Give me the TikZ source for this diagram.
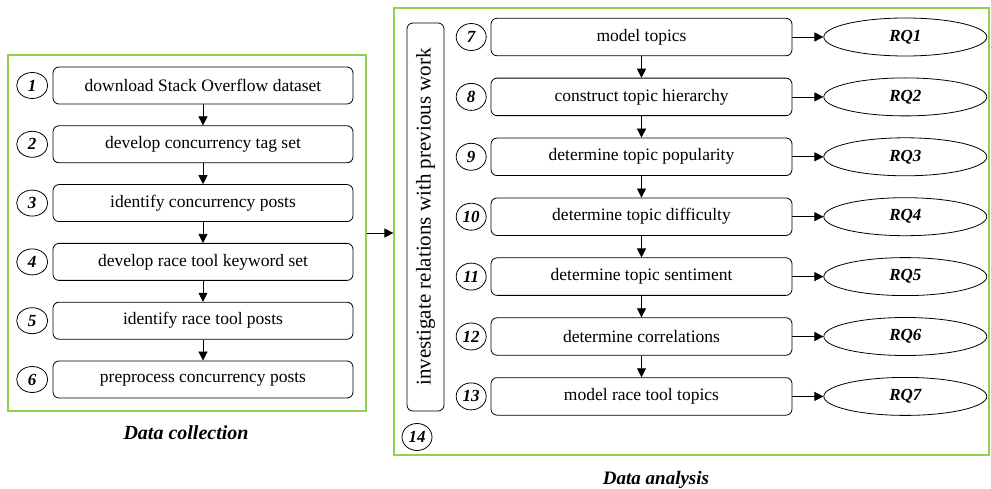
\documentclass[tikz,border=0pt]{standalone}
\usepackage{fontspec}
\setmainfont{Liberation Serif}
\usetikzlibrary{positioning,shapes.geometric,arrows.meta}
\definecolor{framegreen}{RGB}{146,208,80}

\begin{document}
\begin{tikzpicture}[
    x=1pt, y=-1pt,
    node distance=21pt,
    stepbox/.style={
        rectangle,
        rounded corners=6pt,
        draw,
        line width=0.8pt,
        minimum width=300pt,
        minimum height=37pt,
        font=\fontsize{17.5}{20}\selectfont
    },
    number/.style={
        ellipse,
        draw,
        line width=0.8pt,
        minimum width=31pt,
        minimum height=26pt,
        inner sep=0pt,
        font=\fontsize{17}{20}\selectfont\bfseries\itshape
    },
    rq/.style={
        ellipse,
        draw,
        line width=0.8pt,
        minimum width=163pt,
        minimum height=38pt,
        font=\fontsize{17}{20}\selectfont\bfseries\itshape
    },
    frame/.style={
        rectangle,
        draw=framegreen,
        line width=1.2pt,
        inner sep=0pt
    },
    caption/.style={
        font=\fontsize{19}{22}\selectfont\bfseries\itshape
    },
    arrow/.style={
        -{Triangle[width=9pt,length=9pt]},
        line width=0.7pt
    }
]
\useasboundingbox (0,0) rectangle (991,489);

% Rahmen
\node[frame, minimum width=358pt, minimum height=356pt] (collect) at (187,233) {};
\node[frame, minimum width=595pt, minimum height=447pt] (analysis) at (691.5,231.5) {};

% Data collection
\node[stepbox] (s1) at (203,85.5) {download Stack Overflow dataset};
\node[stepbox, below=of s1] (s2) {develop concurrency tag set};
\node[stepbox, below=of s2] (s3) {identify concurrency posts};
\node[stepbox, below=of s3] (s4) {develop race tool keyword set};
\node[stepbox, below=of s4] (s5) {identify race tool posts};
\node[stepbox, below=of s5] (s6) {preprocess concurrency posts};

\node[number, left=4.5pt of s1] (n1) {1};
\node[number, left=4.5pt of s2] (n2) {2};
\node[number, left=4.5pt of s3] (n3) {3};
\node[number, left=4.5pt of s4] (n4) {4};
\node[number, left=4.5pt of s5] (n5) {5};
\node[number, left=4.5pt of s6] (n6) {6};

\draw[arrow] (s1) -- (s2);
\draw[arrow] (s2) -- (s3);
\draw[arrow] (s3) -- (s4);
\draw[arrow] (s4) -- (s5);
\draw[arrow] (s5) -- (s6);

\node[caption, font=\fontsize{20}{23}\selectfont\bfseries\itshape] (collectlabel) at (186,433) {Data collection};

% Data analysis
\node[stepbox, minimum width=301pt, minimum height=37.5pt] (s7) at (641.5,37) {model topics};
\node[stepbox, minimum width=301pt, minimum height=37.5pt, below=21.6pt of s7] (s8) {construct topic hierarchy};
\node[stepbox, minimum width=301pt, minimum height=37.5pt, below=21.6pt of s8] (s9) {determine topic popularity};
\node[stepbox, minimum width=301pt, minimum height=37.5pt, below=21.6pt of s9] (s10) {determine topic difficulty};
\node[stepbox, minimum width=301pt, minimum height=37.5pt, below=21.6pt of s10] (s11) {determine topic sentiment};
\node[stepbox, minimum width=301pt, minimum height=37.5pt, below=21.6pt of s11] (s12) {determine correlations};
\node[stepbox, minimum width=301pt, minimum height=37.5pt, below=21.6pt of s12] (s13) {model race tool topics};

\node[number, minimum width=30pt, minimum height=27pt, left=4pt of s7] (n7) {7};
\node[number, minimum width=30pt, minimum height=27pt, left=4pt of s8] (n8) {8};
\node[number, minimum width=30pt, minimum height=27pt, left=4pt of s9] (n9) {9};
\node[number, minimum width=30pt, minimum height=27pt, left=4pt of s10] (n10) {10};
\node[number, minimum width=30pt, minimum height=27pt, left=4pt of s11] (n11) {11};
\node[number, minimum width=30pt, minimum height=27pt, left=4pt of s12] (n12) {12};
\node[number, minimum width=30pt, minimum height=27pt, left=4pt of s13] (n13) {13};

\node[rq, right=31pt of s7] (rq1) {RQ1};
\node[rq, right=31pt of s8] (rq2) {RQ2};
\node[rq, right=31pt of s9] (rq3) {RQ3};
\node[rq, right=31pt of s10] (rq4) {RQ4};
\node[rq, right=31pt of s11] (rq5) {RQ5};
\node[rq, right=31pt of s12] (rq6) {RQ6};
\node[rq, right=31pt of s13] (rq7) {RQ7};

\draw[arrow] (s7) -- (s8);
\draw[arrow] (s8) -- (s9);
\draw[arrow] (s9) -- (s10);
\draw[arrow] (s10) -- (s11);
\draw[arrow] (s11) -- (s12);
\draw[arrow] (s12) -- (s13);

\draw[arrow] (s7) -- (rq1);
\draw[arrow] (s8) -- (rq2);
\draw[arrow] (s9) -- (rq3);
\draw[arrow] (s10) -- (rq4);
\draw[arrow] (s11) -- (rq5);
\draw[arrow] (s12) -- (rq6);
\draw[arrow] (s13) -- (rq7);

% Verwandte Arbeiten
\node[stepbox, rotate=90, minimum width=388pt, minimum height=37pt, font=\fontsize{21}{24}\selectfont] (s14) at (425.5,217) {investigate relations with previous work};
\node[number, minimum width=30pt, minimum height=27pt] (n14) at (417,437) {14};

\node[caption] (analysislabel) at (656,480) {Data analysis};

% Uebergang
\draw[arrow] (collect.east) -- (collect.east -| analysis.west);

\end{tikzpicture}
\end{document}
